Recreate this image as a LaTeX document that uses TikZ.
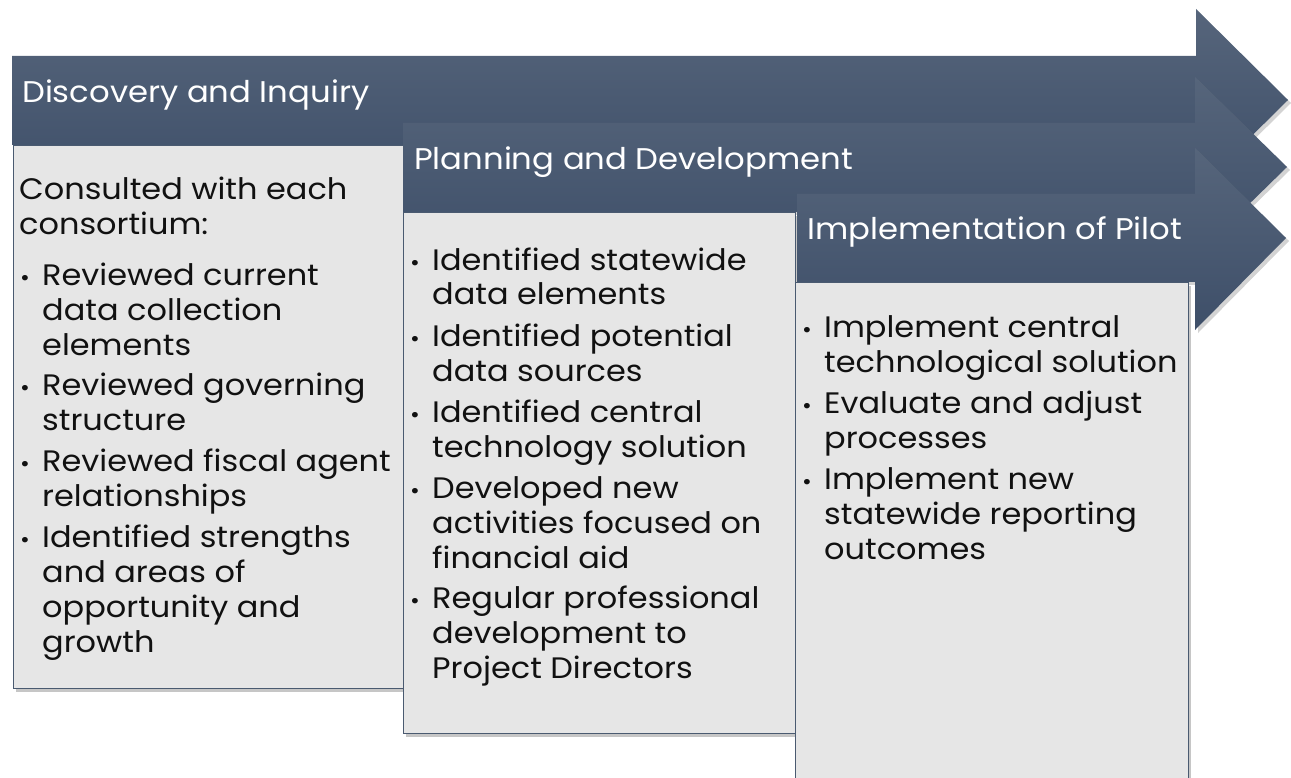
\documentclass[tikz,border=0pt]{standalone}
\usepackage{fontspec}
\setmainfont{Poppins}[FakeStretch=1.08]
\usetikzlibrary{shadows}
\definecolor{arrTop}{HTML}{56657B}
\definecolor{arrMid}{HTML}{45556E}
\definecolor{arrBot}{HTML}{3E4F69}
\definecolor{boxFill}{HTML}{E6E6E6}
\definecolor{boxLine}{HTML}{4A5A70}
\definecolor{txt}{HTML}{111111}
\tikzset{
  x=1pt,y=1pt,
  arrowshape/.style={top color=arrTop, middle color=arrMid, bottom color=arrBot, draw=none,
    drop shadow={opacity=0.35, shadow xshift=3pt, shadow yshift=-3pt}},
  boxshape/.style={fill=boxFill, draw=boxLine, line width=0.9pt,
    drop shadow={opacity=0.45, shadow xshift=3pt, shadow yshift=-4pt}},
  head/.style={anchor=base west, inner sep=0pt, text=white, font=\fontsize{29.9}{35}\selectfont},
  line/.style={anchor=base west, inner sep=0pt, text=txt, font=\fontsize{29.6}{35}\selectfont},
  bul/.style={anchor=base, inner sep=0pt, text=txt, font=\fontsize{22}{35}\selectfont},
}
\begin{document}
\begin{tikzpicture}
\useasboundingbox (0,0) rectangle (1291,-778);
% Arrow 1
\path[arrowshape] (12,-56) -- (1196,-56) -- (1196,-9) -- (1288,-100) -- (1196,-191) -- (1196,-145) -- (12,-145) -- cycle;
\node[head] (h1) at (22,-103) {Discovery and Inquiry};
% Box 1
\path[boxshape] (13,-145) rectangle (403,-688);
\node[line] (a0) at (19,-200) {Consulted with each};
\node[line] (a1) at (19,-235) {consortium:};
\node[bul] (ab1) at (25,-285) {•};
\node[line] (a2) at (42,-285) {Reviewed current};
\node[line] (a3) at (42,-320) {data collection};
\node[line] (a4) at (42,-355) {elements};
\node[bul] (ab2) at (25,-395) {•};
\node[line] (a5) at (42,-395) {Reviewed governing};
\node[line] (a6) at (42,-430) {structure};
\node[bul] (ab3) at (25,-471) {•};
\node[line] (a7) at (42,-471) {Reviewed fiscal agent};
\node[line] (a8) at (42,-506) {relationships};
\node[bul] (ab4) at (25,-547) {•};
\node[line] (a9) at (42,-547) {Identified strengths};
\node[line] (a10) at (42,-582) {and areas of};
\node[line] (a11) at (42,-617) {opportunity and};
\node[line] (a12) at (42,-652) {growth};
% Arrow 2
\path[arrowshape] (403,-123) -- (1195,-123) -- (1195,-77) -- (1287,-167) -- (1195,-257) -- (1195,-212) -- (403,-212) -- cycle;
\node[head] (h2) at (414,-170) {Planning and Development};
% Box 2
\path[boxshape] (403,-212) rectangle (795,-733);
\node[bul] (bb1) at (415,-270) {•};
\node[line] (b1) at (432,-270) {Identified statewide};
\node[line] (b2) at (432,-305) {data elements};
\node[bul] (bb2) at (415,-346) {•};
\node[line] (b3) at (432,-346) {Identified potential};
\node[line] (b4) at (432,-381) {data sources};
\node[bul] (bb3) at (415,-422) {•};
\node[line] (b5) at (432,-422) {Identified central};
\node[line] (b6) at (432,-457) {technology solution};
\node[bul] (bb4) at (415,-498) {•};
\node[line] (b7) at (432,-498) {Developed new};
\node[line] (b8) at (432,-533) {activities focused on};
\node[line] (b9) at (432,-568) {financial aid};
\node[bul] (bb5) at (415,-608) {•};
\node[line] (b10) at (432,-608) {Regular professional};
\node[line] (b11) at (432,-643) {development to};
\node[line] (b12) at (432,-678) {Project Directors};
% Arrow 3
\path[arrowshape] (797,-194) -- (1195,-194) -- (1195,-148) -- (1286,-238) -- (1195,-330) -- (1195,-282) -- (797,-282) -- cycle;
\node[head] (h3) at (807,-240) {Implementation of Pilot};
% Box 3
\path[boxshape] (795,-282) rectangle (1188,-800);
\node[bul] (cb1) at (807,-337) {•};
\node[line] (c1) at (824,-337) {Implement central};
\node[line] (c2) at (824,-372) {technological solution};
\node[bul] (cb2) at (807,-413) {•};
\node[line] (c3) at (824,-413) {Evaluate and adjust};
\node[line] (c4) at (824,-448) {processes};
\node[bul] (cb3) at (807,-489) {•};
\node[line] (c5) at (824,-489) {Implement new};
\node[line] (c6) at (824,-524) {statewide reporting};
\node[line] (c7) at (824,-559) {outcomes};
\end{tikzpicture}
\end{document}
